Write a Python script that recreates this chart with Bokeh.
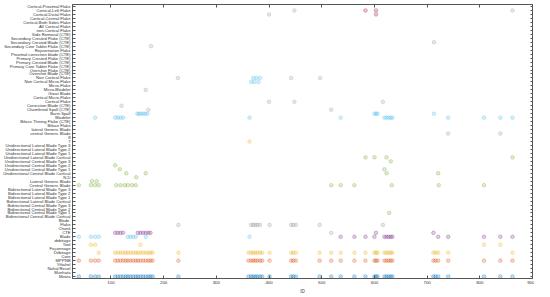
from bokeh.plotting import figure
from bokeh.models import FactorRange, Range1d, FixedTicker, CategoricalAxis, LinearAxis, ColumnDataSource
from bokeh.embed import file_html
from bokeh.resources import INLINE

# categories, top to bottom
categories = [
    "Cortical-Proximal Flake", "Cortical-Left Flake", "Cortical-Distal Flake", "Cortical-Central Flake",
    "Cortical-Both Sides Flake", "All Cortical Flake", "non-Cortical Flake", "Side Removal (CTE)",
    "Secondary Crested Flake (CTE)", "Secondary Crested Blade (CTE)", "Secondary Core Tablet Flake (CTE)",
    "Rejuvenation Flake", "Proximal correction blade (CTE)", "Primary Crested Flake (CTE)",
    "Primary Crested Blade (CTE)", "Primary Core Tablet Flake (CTE)", "Overshot Flake (CTE)",
    "Overshot Blade (CTE)", "Non Cortical Flake", "Non Cortical Micro-Flake", "Micro-Flake",
    "Micro-Bladelet", "Great Blade", "Cortical Micro-Flake", "Cortical Flake", "Correction Blade (CTE)",
    "Chamfered Spall (CTE)", "Burin Spall", "Bladelet", "Biface Thining Flake (CTE)", "Biface Flake",
    "lateral Generic Blade", "central Generic Blade", "8", "7",
    "Unidirectional Lateral Blade Type 3", "Unidirectional Lateral Blade Type 2",
    "Unidirectional Lateral Blade Type 1", "Unidirectional Lateral Blade Cortical",
    "Unidirectional Central Blade Type 3", "Unidirectional Central Blade Type 2",
    "Unidirectional Central Blade Type 1", "Unidirectional Central Blade Cortical", "N.D",
    "Lateral Generic Blade", "Central Generic Blade",
    "Bidirectional Lateral Blade Type 3", "Bidirectional Lateral Blade Type 2",
    "Bidirectional Lateral Blade Type 1", "Bidirectional Lateral Blade Cortical",
    "Bidirectional Central Blade Type 3", "Bidirectional Central Blade Type 2",
    "Bidirectional Central Blade Type 1", "Bidirectional Central Blade Cortical",
    "Blade ", "Flake", "Chunk", "CTE", "Blade", "debitage", "Tool", "Façonnage", "Débitage", "Core",
    "MPPNB", "Yiftahel", "Nahal Reuel", "Munhata", "Motza",
]

x_ticks = [100, 200, 300, 400, 500, 600, 700, 800, 900]

# IDs per row and colour group
site_ids = [39, 62, 70, 77, 108, 113, 118, 123, 128, 132, 137, 142, 147, 151, 156, 161, 166, 171, 175, 179,
            228, 361, 366, 370, 374, 378, 383, 387, 401, 442, 446, 451, 496, 518, 536, 562, 583, 600, 603,
            606, 619, 623, 627, 631, 634, 712, 716, 721, 740, 808, 839, 862]
period_ids = [39, 62, 70, 77, 108, 113, 118, 123, 128, 132, 137, 142, 147, 151, 156, 161, 166, 171, 175, 179,
              228, 361, 366, 370, 374, 378, 383, 387, 401, 442, 446, 451, 496, 518, 536, 562, 583, 600, 603,
              606, 619, 623, 627, 631, 634, 712, 716, 721, 740, 808, 839, 862]
debitage_ids = [77, 108, 113, 118, 123, 128, 132, 137, 142, 147, 151, 156, 161, 166, 171, 175, 179,
                228, 361, 366, 370, 374, 378, 383, 387, 401, 442, 446, 451, 496, 518, 536, 562, 583, 600, 603,
                606, 619, 623, 627, 631, 634, 712, 716, 721, 740, 862]
tool_ids = [62, 70, 156, 808, 839]
flake_ids = [228, 366, 370, 374, 378, 383, 401, 442, 446, 451, 496, 616]
cte_ids = [108, 113, 118, 123, 151, 156, 161, 166, 171, 175, 603, 712]
cte_gray_ids = [518]
blade_left_ids = [39, 62, 70, 77, 132, 137, 142, 147, 166, 363]
blade_right_ids = [536, 562, 583, 600, 619, 623, 627, 631, 634, 721, 740, 808, 839, 862]
seven_ids = [363]

green_rows = {
    "Unidirectional Lateral Blade Cortical": [583, 600, 623, 862],
    "Unidirectional Central Blade Type 3": [631],
    "Unidirectional Central Blade Type 2": [108],
    "Unidirectional Central Blade Type 1": [117, 619],
    "Unidirectional Central Blade Cortical": [129, 166, 623, 721],
    "N.D": [148],
    "Lateral Generic Blade": [64, 73],
    "Central Generic Blade": [39, 62, 70, 77, 110, 118, 126, 132, 140, 147, 518, 536, 562, 633, 722, 808],
    "Bidirectional Central Blade Type 1": [628],
}
red_rows = {
    "Cortical-Left Flake": [583, 603],
    "Cortical-Distal Flake": [603],
}
gray_rows = {
    "Cortical-Left Flake": [448, 862],
    "Cortical-Distal Flake": [400],
    "Secondary Crested Blade (CTE)": [713],
    "Secondary Core Tablet Flake (CTE)": [176],
    "Non Cortical Flake": [227, 442, 497],
    "Micro-Bladelet": [166],
    "Cortical Flake": [400, 448, 616],
    "Correction Blade (CTE)": [120],
    "Chamfered Spall (CTE)": [171, 518],
    "central Generic Blade": [740, 839],
}
teal_rows = {
    "Non Cortical Flake": [370, 376, 383],
    "Non Cortical Micro-Flake": [366, 372, 380],
    "Burin Spall": [150, 153, 157, 161, 165, 169, 600, 603, 606, 713],
    "Bladelet": [70, 108, 113, 118, 123, 363, 536, 619, 623, 627, 631, 634, 740, 808, 839, 862],
}

BLUE, ORANGE, YELLOW, PURPLE, GREEN, CYAN, RED, GRAY = (
    "#0072BD", "#D95319", "#EDB120", "#7E2F8E", "#77AC30", "#4DBEEE", "#A2142F", "#9a9a9a")

series = [
    ("Motza", site_ids, BLUE),
    ("MPPNB", period_ids, ORANGE),
    ("Débitage", debitage_ids, YELLOW),
    ("Tool", tool_ids, YELLOW),
    ("7", seven_ids, YELLOW),
    ("Flake", flake_ids, GRAY),
    ("CTE", cte_ids, PURPLE),
    ("CTE", cte_gray_ids, GRAY),
    ("Blade", blade_left_ids, CYAN),
    ("Blade", blade_right_ids, PURPLE),
]
for rows, col in ((green_rows, GREEN), (red_rows, RED), (gray_rows, GRAY), (teal_rows, CYAN)):
    for cat, ids in rows.items():
        series.append((cat, ids, col))

factors = list(reversed(categories))
p = figure(width=534, height=296, output_backend="svg", toolbar_location=None,
           x_range=Range1d(27, 900), y_range=FactorRange(factors=factors, range_padding=0),
           min_border_left=0, min_border_right=2, min_border_top=4, min_border_bottom=10)

xs, ys, cs = [], [], []
for cat, ids, col in series:
    for i in ids:
        xs.append(i)
        ys.append(cat)
        cs.append(col)
src = ColumnDataSource(dict(x=xs, y=ys, c=cs))
p.scatter("x", "y", source=src, size=3.6, marker="circle", fill_color="c", line_color="c",
          fill_alpha=0.22, line_alpha=0.55, line_width=0.6)

AX = "#555555"
p.xgrid.visible = False
p.ygrid.visible = False
p.outline_line_color = AX
p.outline_line_width = 0.8
p.background_fill_color = "white"
p.border_fill_color = "white"

xa = p.xaxis[0]
xa.ticker = FixedTicker(ticks=x_ticks)
xa.axis_label = "ID"
xa.axis_label_text_font = "Liberation Sans"
xa.axis_label_text_font_size = "4.6px"
xa.axis_label_text_font_style = "normal"
xa.axis_label_standoff = 2
xa.major_label_text_font = "Liberation Sans"
xa.major_label_text_font_size = "4.4px"
xa.major_label_standoff = 2
xa.major_tick_in = 3
xa.major_tick_out = 0
xa.minor_tick_in = 0
xa.minor_tick_out = 0
xa.axis_line_color = AX
xa.major_tick_line_color = AX
xa.major_label_text_color = "#333333"

ya = p.yaxis[0]
ya.major_label_text_font = "Liberation Sans"
ya.major_label_text_font_size = "4.2px"
ya.major_label_standoff = 2
ya.major_tick_in = 3
ya.major_tick_out = 0
ya.axis_line_color = AX
ya.major_tick_line_color = AX
ya.major_label_text_color = "#333333"

ra = CategoricalAxis(major_label_text_font_size="0px", major_label_text_color=None, major_tick_in=2,
                     major_tick_out=0, axis_line_color=AX, major_tick_line_color=AX, major_label_standoff=0)
p.add_layout(ra, "right")
ta = LinearAxis(ticker=FixedTicker(ticks=x_ticks), major_label_text_font_size="0px",
                major_label_text_color=None, major_tick_in=3, major_tick_out=0, minor_tick_in=0,
                minor_tick_out=0, axis_line_color=AX, major_tick_line_color=AX, major_label_standoff=0)
p.add_layout(ta, "above")

open("out.html", "w").write(file_html(p, INLINE))
